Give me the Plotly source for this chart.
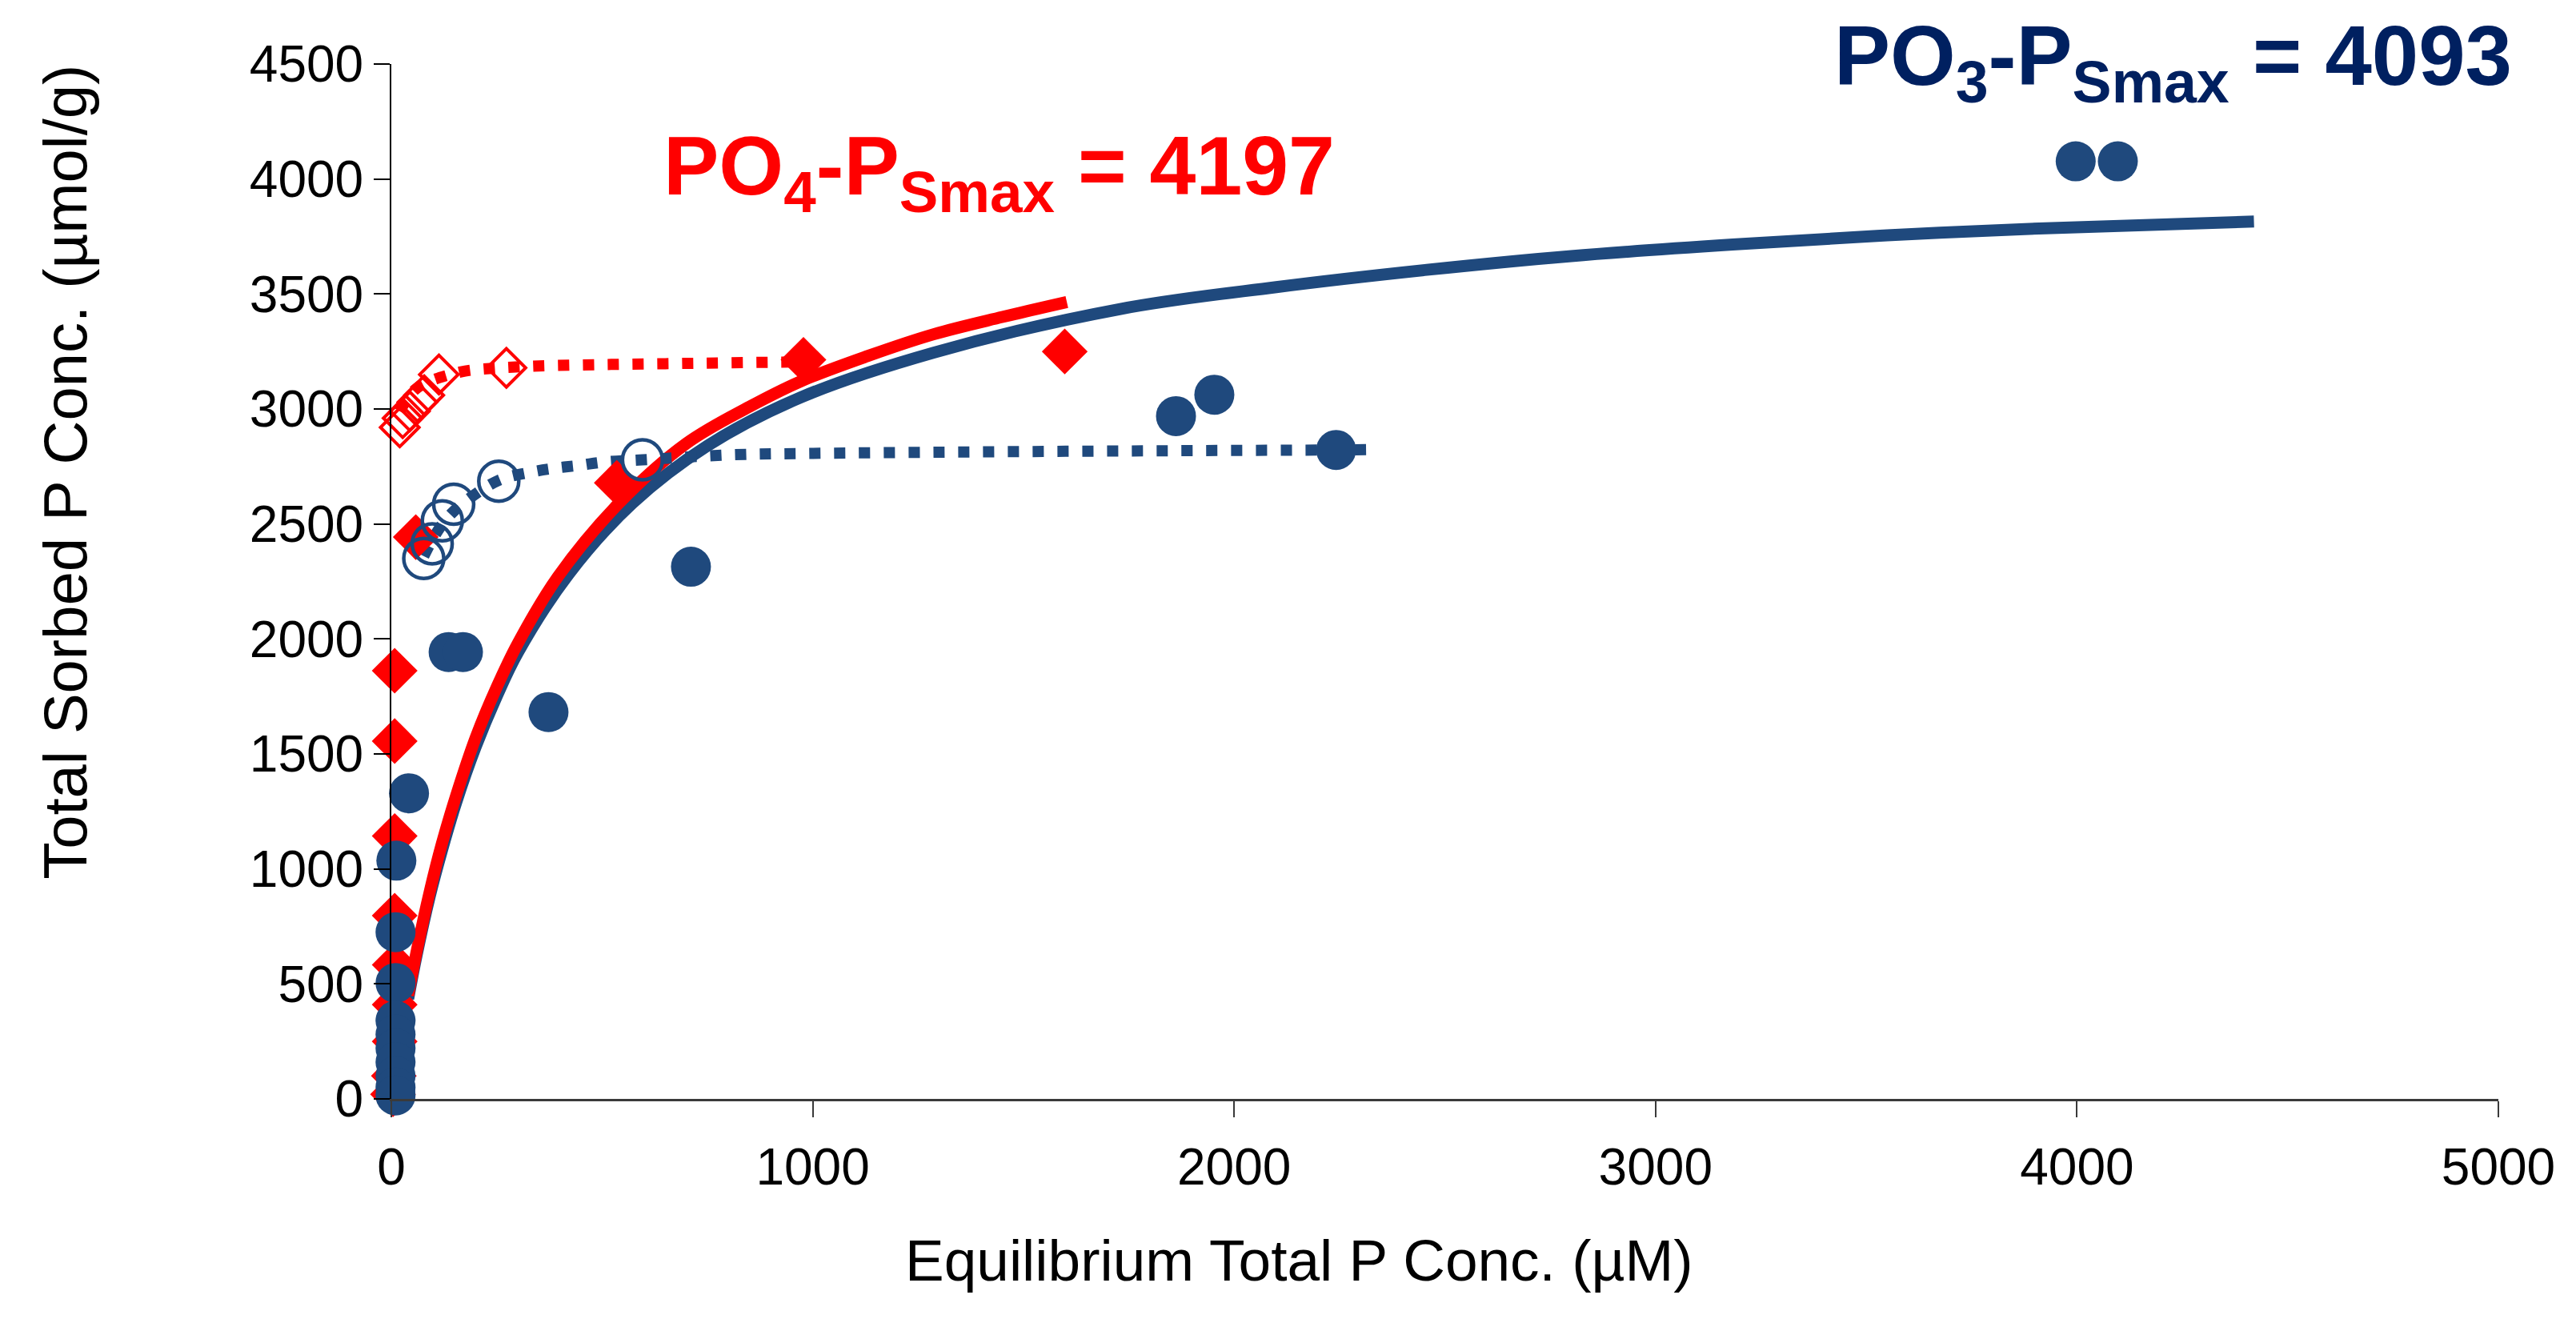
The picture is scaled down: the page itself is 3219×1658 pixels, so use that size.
import plotly.graph_objects as go

# ---------------- data ----------------
# PO3 sorption (filled circles)
po3_x = [3997, 4097, 2242, 1862, 1953, 711, 373, 136, 170, 42, 12, 10, 10,
         10, 10, 10, 10, 10, 10, 10]
po3_y = [4077, 4077, 2822, 2969, 3062, 2314, 1682, 1943, 1943, 1329, 1036, 725, 504,
         340, 280, 220, 160, 100, 50, 15]

# PO4 sorption (filled diamonds)
po4_x = [1598, 978, 535, 58, 8, 8, 8, 8, 8, 8, 8, 6, 4]
po4_y = [3250, 3214, 2679, 2443, 1862, 1556, 1143, 797, 583, 410, 250, 100, 20]

# PO3 desorption (open circles)
po3d_x = [77, 97, 121, 148, 255, 596]
po3d_y = [2350, 2414, 2514, 2586, 2686, 2779]

# PO4 desorption (open diamonds)
po4d_x = [20, 27, 44, 62, 78, 113, 273]
po4d_y = [2920, 2960, 2990, 3030, 3060, 3150, 3179]

# Langmuir fit curves
po4_fit_x = [40, 60, 91, 120, 154, 200, 250, 300, 395, 540, 700, 850, 971, 1130, 1287, 1450, 1603]
po4_fit_y = [450, 640, 900, 1110, 1320, 1570, 1790, 1980, 2270, 2590, 2850, 3010, 3120, 3230, 3325, 3400, 3465]

po3_fit_x = [40, 60, 91, 120, 154, 200, 250, 300, 420, 572, 750, 971, 1287, 1730, 2100, 2457, 2800, 3183, 3550, 3910, 4420]
po3_fit_y = [435, 625, 880, 1080, 1290, 1530, 1750, 1940, 2280, 2590, 2840, 3050, 3245, 3435, 3530, 3605, 3665, 3715, 3755, 3785, 3815]

# desorption trend lines (dotted)
po4d_tr_x = [20, 40, 60, 90, 130, 175, 250, 350, 500, 650, 800, 978]
po4d_tr_y = [2990, 3050, 3090, 3120, 3145, 3165, 3178, 3187, 3193, 3197, 3201, 3205]

po3d_tr_x = [77, 100, 130, 170, 255, 333, 390, 447, 507, 596, 796, 1000, 1300, 1600, 1900, 2242, 2330]
po3d_tr_y = [2360, 2440, 2520, 2590, 2690, 2726, 2743, 2755, 2770, 2779, 2800, 2807, 2812, 2816, 2819, 2822, 2824]

x_ticks = [0, 1000, 2000, 3000, 4000, 5000]
y_ticks = [0, 500, 1000, 1500, 2000, 2500, 3000, 3500, 4000, 4500]

po4_label = "<b>PO<sub>4</sub>-P<sub>Smax</sub> = 4197</b>"
po3_label = "<b>PO<sub>3</sub>-P<sub>Smax</sub> = 4093</b>"
x_title = "Equilibrium Total P Conc. (µM)"
y_title = "Total Sorbed P Conc. (µmol/g)"

# ---------------- styles ----------------
RED = "#FF0000"
BLUE = "#1F497D"
NAVY = "#002060"
FONT = "Liberation Sans, Arial, sans-serif"

fig = go.Figure()

fig.add_trace(go.Scatter(x=po3_fit_x, y=po3_fit_y, mode="lines",
                         line=dict(color=BLUE, width=15, shape="spline"),
                         cliponaxis=False, showlegend=False))
fig.add_trace(go.Scatter(x=po4_fit_x, y=po4_fit_y, mode="lines",
                         line=dict(color=RED, width=15, shape="spline"),
                         cliponaxis=False, showlegend=False))
fig.add_trace(go.Scatter(x=po4d_tr_x, y=po4d_tr_y, mode="lines",
                         line=dict(color=RED, width=14, dash="14px,17px", shape="spline"),
                         cliponaxis=False, showlegend=False))
fig.add_trace(go.Scatter(x=po3d_tr_x, y=po3d_tr_y, mode="lines",
                         line=dict(color=BLUE, width=14, dash="14px,17px", shape="spline"),
                         cliponaxis=False, showlegend=False))
fig.add_trace(go.Scatter(x=po4_x, y=po4_y, mode="markers",
                         marker=dict(symbol="diamond", size=44, color=RED, line=dict(width=0)),
                         cliponaxis=False, showlegend=False))
fig.add_trace(go.Scatter(x=po4d_x, y=po4d_y, mode="markers",
                         marker=dict(symbol="diamond-open", size=37, color=RED, line=dict(width=4, color=RED)),
                         cliponaxis=False, showlegend=False))
fig.add_trace(go.Scatter(x=po3_x, y=po3_y, mode="markers",
                         marker=dict(symbol="circle", size=50, color=BLUE, line=dict(width=0)),
                         cliponaxis=False, showlegend=False))
fig.add_trace(go.Scatter(x=po3d_x, y=po3d_y, mode="markers",
                         marker=dict(symbol="circle-open", size=50, color=BLUE, line=dict(width=4.5, color=BLUE)),
                         cliponaxis=False, showlegend=False))

fig.update_layout(
    width=3219, height=1658,
    margin=dict(l=489, r=97, t=80, b=285),
    paper_bgcolor="white", plot_bgcolor="white",
    font=dict(family=FONT, color="black"),
    xaxis=dict(range=[0, 5000], tickvals=x_ticks, showgrid=False, zeroline=False,
               showline=True, linecolor="#3a3a3a", linewidth=3,
               ticks="outside", ticklen=20, tickwidth=2, tickcolor="#3a3a3a",
               tickfont=dict(size=64, family=FONT, color="black"), ticklabelstandoff=7),
    yaxis=dict(range=[0, 4500], tickvals=y_ticks, showgrid=False, zeroline=False,
               showline=True, linecolor="black", linewidth=2,
               ticks="outside", ticklen=20, tickwidth=2, tickcolor="black",
               tickfont=dict(size=64, family=FONT, color="black"), ticklabelstandoff=0),
    annotations=[
        dict(text=y_title, xref="paper", yref="paper", x=-0.1546, y=0.6057,
             textangle=-90, showarrow=False, xanchor="center", yanchor="middle",
             font=dict(size=76, family=FONT, color="black")),
        dict(text=x_title, xref="paper", yref="paper", x=0.431, y=-0.156,
             showarrow=False, xanchor="center", yanchor="middle",
             font=dict(size=73, family=FONT, color="black")),
        dict(text=po4_label, xref="x", yref="y", x=642, y=3796,
             showarrow=False, xanchor="left", yanchor="bottom",
             font=dict(size=104, family=FONT, color=RED)),
        dict(text=po3_label, xref="x", yref="y", x=3420, y=4270,
             showarrow=False, xanchor="left", yanchor="bottom",
             font=dict(size=105, family=FONT, color=NAVY)),
    ],
)

fig.write_html("out.html")
